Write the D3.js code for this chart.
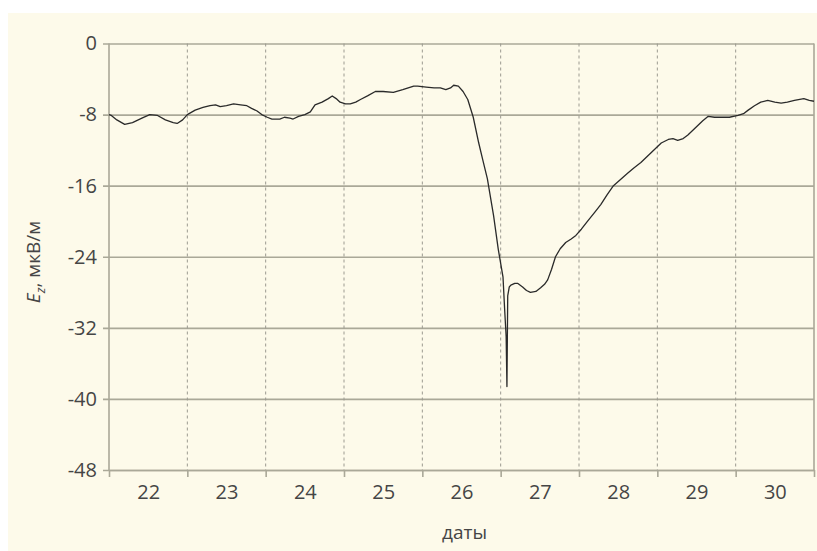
<!DOCTYPE html>
<html>
<head>
<meta charset="utf-8">
<script src="https://cdn.jsdelivr.net/npm/d3@7"></script>
<style>
  html, body { margin: 0; padding: 0; background: #ffffff; }
  svg { display: block; }
  text { font-family: "Open Sans", "Noto Sans", sans-serif; fill: #454545; }
</style>
</head>
<body>
<div id="chart"></div>
<script>
// day boundaries and labels
const dayTicks = [22, 23, 24, 25, 26, 27, 28, 29, 30, 31];
const dayLabels = ["22", "23", "24", "25", "26", "27", "28", "29", "30"];
const yTicks = [0, -8, -16, -24, -32, -40, -48];

// Ez curve (time in days, value in мкВ/м)
const days = [
  22.00, 22.03, 22.10, 22.20, 22.30, 22.42, 22.52, 22.62, 22.72, 22.82, 22.87, 22.94, 23.00,
  23.10, 23.20, 23.29, 23.36, 23.42, 23.50, 23.59, 23.68, 23.76, 23.82, 23.89, 23.95, 24.02, 24.08,
  24.18, 24.24, 24.31, 24.35, 24.42, 24.50, 24.57, 24.63, 24.72, 24.80, 24.85, 24.90, 24.95, 25.02, 25.08,
  25.15, 25.21, 25.30, 25.40, 25.50, 25.63, 25.75, 25.89, 25.94, 26.05, 26.15, 26.23, 26.30, 26.36, 26.40,
  26.46, 26.52, 26.58, 26.65, 26.72, 26.78, 26.83, 26.91, 26.97, 27.03, 27.05, 27.07, 27.08, 27.09,
  27.11, 27.13, 27.18, 27.22, 27.28, 27.33, 27.38, 27.45, 27.51, 27.56, 27.60, 27.65, 27.70, 27.76, 27.83,
  27.90, 27.96, 28.03, 28.11, 28.20, 28.28, 28.36, 28.44, 28.53, 28.62, 28.70, 28.79, 28.92, 29.05,
  29.14, 29.20, 29.26, 29.33, 29.39, 29.45, 29.52, 29.58, 29.65, 29.73, 29.81, 29.92, 30.03,
  30.10, 30.16, 30.24, 30.32, 30.41, 30.50, 30.58, 30.66, 30.75, 30.87, 30.94, 31.00
];
const ez = [
  -8.0, -8.1, -8.6, -9.1, -8.9, -8.4, -8.0, -8.1, -8.6, -8.9, -9.0, -8.6, -8.0,
  -7.5, -7.2, -7.0, -6.9, -7.1, -7.0, -6.8, -6.9, -7.0, -7.3, -7.6, -8.0, -8.3, -8.5,
  -8.5, -8.3, -8.4, -8.5, -8.2, -8.0, -7.7, -6.9, -6.6, -6.2, -5.9, -6.2, -6.6, -6.8, -6.8,
  -6.6, -6.3, -5.9, -5.4, -5.4, -5.5, -5.2, -4.8, -4.8, -4.9, -5.0, -5.0, -5.2, -5.0, -4.7,
  -4.8, -5.4, -6.3, -8.3, -11.2, -13.4, -15.2, -19.4, -23.2, -26.3, -29.8, -33.0, -38.6, -28.4,
  -27.4, -27.2, -27.0, -27.0, -27.4, -27.8, -28.0, -27.9, -27.5, -27.1, -26.6, -25.4, -24.0, -23.1, -22.4,
  -22.0, -21.6, -20.9, -20.0, -19.0, -18.1, -17.0, -16.0, -15.3, -14.6, -14.0, -13.4, -12.3, -11.2,
  -10.8, -10.7, -10.9, -10.7, -10.3, -9.8, -9.2, -8.7, -8.2, -8.3, -8.3, -8.3, -8.1,
  -7.9, -7.5, -7.0, -6.6, -6.4, -6.6, -6.7, -6.6, -6.4, -6.2, -6.4, -6.5
];

const W = 817, H = 551;
const margin = {top: 43.5, right: 3, bottom: 81, left: 109};
const width = W - margin.left - margin.right;
const height = H - margin.top - margin.bottom;

const svg = d3.select("#chart").append("svg")
  .attr("width", W)
  .attr("height", H);

// cream panel
svg.append("rect")
  .attr("x", 8).attr("y", 13)
  .attr("width", W - 8).attr("height", H - 13)
  .attr("fill", "#fdfaea");

const g = svg.append("g")
  .attr("transform", "translate(" + margin.left + "," + margin.top + ")");

const x = d3.scaleLinear().domain([22, 31]).range([0, width]);
const y = d3.scaleLinear().domain([0, -48]).range([0, height]);

const gridColor = "#aaa898";

// horizontal grid with y labels
const yAxis = d3.axisLeft(y)
  .tickValues(yTicks)
  .tickSize(-width)
  .tickSizeOuter(0)
  .tickPadding(12)
  .tickFormat(d => d);

const yg = g.append("g").attr("class", "y axis").call(yAxis);
yg.select(".domain").remove();
yg.selectAll(".tick line")
  .attr("x1", -6)
  .attr("stroke", gridColor)
  .attr("stroke-width", 1.6);
yg.selectAll(".tick text")
  .style("font-size", "20px")
  .attr("fill", "#454545");

// dashed day separators
g.append("g").attr("class", "dayGrid")
  .selectAll("line")
  .data(dayTicks.slice(1, -1))
  .enter().append("line")
    .attr("x1", d => x(d)).attr("x2", d => x(d))
    .attr("y1", 0).attr("y2", height)
    .attr("stroke", "#9c9a90")
    .attr("stroke-width", 1)
    .attr("stroke-dasharray", "3,3");

// frame sides
g.append("line")
  .attr("x1", 0).attr("x2", 0).attr("y1", 0).attr("y2", height)
  .attr("stroke", gridColor).attr("stroke-width", 1.6);
g.append("line")
  .attr("x1", width).attr("x2", width).attr("y1", 0).attr("y2", height)
  .attr("stroke", gridColor).attr("stroke-width", 1.6);

// x tick marks at day boundaries
const xAxis = d3.axisBottom(x)
  .tickValues(dayTicks)
  .tickSize(7)
  .tickSizeOuter(0)
  .tickFormat("");
const xg = g.append("g")
  .attr("class", "x axis")
  .attr("transform", "translate(0," + height + ")")
  .call(xAxis);
xg.select(".domain").attr("stroke", gridColor).attr("stroke-width", 1.6);
xg.selectAll(".tick line").attr("stroke", gridColor).attr("stroke-width", 1.6);

// day labels centred in each day
const xLabels = d3.axisBottom(x)
  .tickValues(dayLabels.map(d => +d + 0.5))
  .tickSize(0)
  .tickPadding(15)
  .tickFormat(d => String(Math.floor(d)));
const xl = g.append("g")
  .attr("transform", "translate(0," + height + ")")
  .call(xLabels);
xl.select(".domain").remove();
xl.selectAll(".tick text")
  .style("font-size", "20px")
  .attr("fill", "#454545");

// curve
const line = d3.line()
  .x((d, i) => x(days[i]))
  .y(d => y(d));

g.append("path")
  .datum(ez)
  .attr("fill", "none")
  .attr("stroke", "#2a2a2a")
  .attr("stroke-width", 1.3)
  .attr("stroke-linejoin", "round")
  .attr("d", line);

// axis titles
svg.append("text")
  .attr("x", margin.left + width / 2 + 3)
  .attr("y", 539)
  .attr("text-anchor", "middle")
  .style("font-size", "19px")
  .text("даты");

const yt = svg.append("text")
  .attr("transform", "translate(40," + 262 + ") rotate(-90)")
  .attr("text-anchor", "middle")
  .style("font-size", "19px");
yt.append("tspan").style("font-style", "italic").text("E");
yt.append("tspan").attr("dy", 5).style("font-size", "13px").style("font-style", "italic").text("z");
yt.append("tspan").attr("dy", -5).text(", мкВ/м");
</script>
</body>
</html>
